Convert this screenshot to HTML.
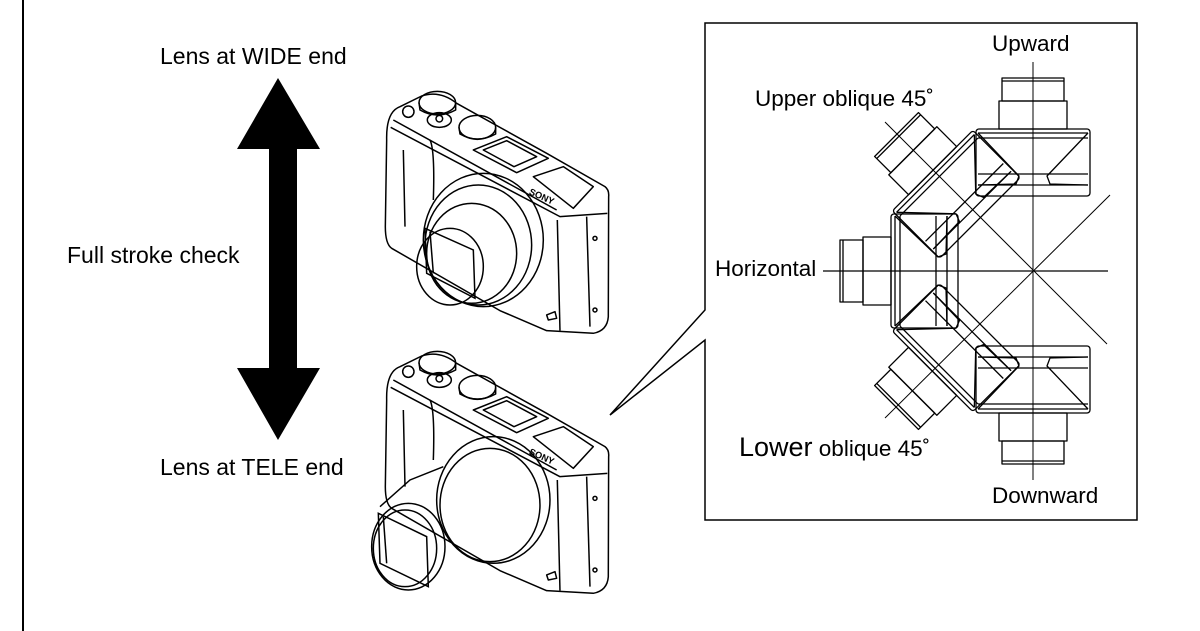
<!DOCTYPE html>
<html><head><meta charset="utf-8">
<style>
html,body{margin:0;padding:0;background:#fff;}
svg{display:block;}
text{font-family:"Liberation Sans",Arial,sans-serif;fill:#000;}
</style></head>
<body>
<svg width="1200" height="631" viewBox="0 0 1200 631" xmlns="http://www.w3.org/2000/svg">
<defs>
  <g id="body" fill="none" stroke="#000" stroke-width="4.5" stroke-linejoin="round">
    <path d="M80,300 Q78,215 120,200 L185,168 Q240,150 290,190 L560,340 L735,440 Q748,450 746,470 L745,830 Q742,872 700,880 L560,872 L420,812 L95,625 Q76,612 76,560 Z"/>
    <path d="M92,262 L600,530 L742,520"/>
    <path d="M100,240 L590,510"/>
    <path d="M592,540 L600,872"/>
    <path d="M680,530 L690,860"/>
    <path d="M130,330 L135,560"/>
    <path d="M210,300 Q225,330 220,480"/>
    <ellipse cx="232" cy="188" rx="55" ry="34"/>
    <path d="M177,188 L180,210 Q232,240 287,210 L287,188"/>
    <ellipse cx="352" cy="262" rx="55" ry="36"/>
    <path d="M297,262 L300,282 Q352,312 407,282 L407,262"/>
    <circle cx="145" cy="215" r="17"/>
    <ellipse cx="238" cy="240" rx="36" ry="22"/>
    <circle cx="238" cy="236" r="10"/>
    <path d="M340,330 L440,290 L565,355 L470,398 Z"/>
    <path d="M370,330 L440,302 L530,350 L462,380 Z"/>
    <path d="M520,410 L610,380 L700,440 L640,505 Z"/>
    <circle cx="705" cy="595" r="6"/>
    <circle cx="705" cy="810" r="6"/>
    <path d="M560,825 L585,815 L590,835 L565,840 Z"/>
  </g>
</defs>

<line x1="23" y1="0" x2="23" y2="631" stroke="#000" stroke-width="2"/>

<text x="160" y="64" font-size="23">Lens at WIDE end</text>
<text x="67" y="263" font-size="23">Full stroke check</text>
<text x="160" y="475" font-size="23">Lens at TELE end</text>

<polygon points="278,78 320,149 297,149 297,368 320,368 278,440 237,368 269,368 269,149 237,149" fill="#000"/>

<g transform="translate(360,40) scale(0.3333)">
  <use href="#body"/>
  <g fill="none" stroke="#000" stroke-width="4.5">
    <ellipse cx="370" cy="600" rx="180" ry="200"/>
    <ellipse cx="355" cy="615" rx="160" ry="180"/>
    <ellipse cx="335" cy="640" rx="135" ry="150"/>
    <ellipse cx="270" cy="680" rx="100" ry="115"/>
    <path d="M195,565 L340,630 L345,775 L200,700 Z"/>
    <path d="M210,575 L220,700"/>
  </g>
  <text x="0" y="0" font-size="28" font-weight="bold" font-family="Liberation Serif,serif" transform="translate(505,462) rotate(24)">SONY</text>
</g>

<g transform="translate(360,340) scale(0.3333)">
  <g transform="translate(0,-120)"><use href="#body"/></g>
  <g fill="none" stroke="#000" stroke-width="4.5">
    <ellipse cx="400" cy="480" rx="170" ry="190"/>
    <ellipse cx="390" cy="495" rx="150" ry="170"/>
    <path d="M250,380 L150,420 L60,500"/>
    <ellipse cx="145" cy="620" rx="110" ry="130"/>
    <ellipse cx="135" cy="625" rx="95" ry="115"/>
    <path d="M55,520 L200,590 L205,740 L60,670 Z"/>
    <path d="M70,530 L80,670"/>
  </g>
  <text x="0" y="0" font-size="28" font-weight="bold" font-family="Liberation Serif,serif" transform="translate(505,342) rotate(24)">SONY</text>
</g>

<path d="M705,310 L705,23 L1137,23 L1137,520 L705,520 L705,340 L610,415 Z" fill="none" stroke="#000" stroke-width="1.5"/>

<g stroke="#000" stroke-width="1">
  <line x1="1033" y1="62" x2="1033" y2="480"/>
  <line x1="823" y1="271" x2="1108" y2="271" stroke-width="1.3"/>
  <line x1="885" y1="122" x2="1107" y2="344"/>
  <line x1="885" y1="418" x2="1110" y2="195"/>
</g>

<defs>
  <g id="lens" fill="none" stroke="#000" stroke-width="1.3" stroke-linejoin="round">
    <rect x="-142" y="-57" width="67" height="114" rx="3"/>
    <line x1="-138" y1="-55" x2="-138" y2="55"/>
    <line x1="-133" y1="-55" x2="-133" y2="55"/>
    <line x1="-97" y1="-55" x2="-97" y2="55"/>
    <line x1="-86" y1="-55" x2="-86" y2="55"/>
    <path d="M-138,-55 L-95,-14 L-87,-17 L-86,-55"/>
    <path d="M-138,55 L-95,14 L-87,17 L-86,55"/>
    <rect x="-170" y="-34" width="28" height="68"/>
    <rect x="-193" y="-31" width="23" height="62"/>
    <line x1="-190" y1="-31" x2="-190" y2="31"/>
  </g>
</defs>
<g transform="translate(1033,271)">
  <use href="#lens"/>
  <use href="#lens" transform="rotate(90)"/>
  <use href="#lens" transform="rotate(-90)"/>
  <use href="#lens" transform="rotate(45)"/>
  <use href="#lens" transform="rotate(-45)"/>
</g>

<text x="992" y="51" font-size="22.5">Upward</text>
<text x="755" y="106" font-size="22.5">Upper oblique 45˚</text>
<text x="715" y="276" font-size="22.5">Horizontal</text>
<text x="739" y="456" font-size="27">Lower<tspan font-size="22.5"> oblique 45˚</tspan></text>
<text x="992" y="503" font-size="22.5">Downward</text>
</svg>
</body></html>
